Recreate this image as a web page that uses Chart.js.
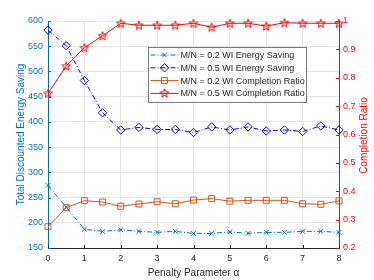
<!DOCTYPE html>
<html>
<head>
<meta charset="utf-8">
<script src="https://cdn.jsdelivr.net/npm/chart.js@4/dist/chart.umd.min.js"></script>
<style>
  body { margin: 0; background: #fff; }
</style>
</head>
<body>
<canvas id="myChart" width="374" height="280"></canvas>
<script>
// values
const alphas = [0, 0.5, 1, 1.5, 2, 2.5, 3, 3.5, 4, 4.5, 5, 5.5, 6, 6.5, 7, 7.5, 8];
const energy02 = [274, 231, 187, 183, 186, 183, 181, 183, 179, 179, 182, 179, 181, 181, 183, 183, 181];
const energy05 = [582, 551, 482, 418, 384, 389, 385, 385, 379, 390, 384, 390, 382, 384, 381, 392, 384];
const ratio02 = [0.275, 0.342, 0.367, 0.362, 0.347, 0.355, 0.363, 0.356, 0.369, 0.374, 0.365, 0.368, 0.368, 0.368, 0.356, 0.354, 0.366];
const ratio05 = [0.745, 0.841, 0.906, 0.948, 0.992, 0.985, 0.985, 0.985, 0.992, 0.978, 0.992, 0.992, 0.982, 0.994, 0.992, 0.992, 0.992];
const xTicks = [0, 1, 2, 3, 4, 5, 6, 7, 8];
const leftTicks = [150, 200, 250, 300, 350, 400, 450, 500, 550, 600];
const rightTicks = [0.2, 0.3, 0.4, 0.5, 0.6, 0.7, 0.8, 0.9, 1];
const seriesNames = ['M/N = 0.2 WI Energy Saving', 'M/N = 0.5 WI Energy Saving', 'M/N = 0.2 WI Completion Ratio', 'M/N = 0.5 WI Completion Ratio'];

const FONT = '"Liberation Sans", Arial, Helvetica, sans-serif';
const C_LBLUE = '#0072BD', C_BLUE = '#0000FF', C_ORANGE = '#D95319', C_RED = '#FF0000';

function starImg(color) {
  const c = document.createElement('canvas');
  c.width = 12; c.height = 12;
  const g = c.getContext('2d');
  g.strokeStyle = color;
  g.lineWidth = 1;
  g.beginPath();
  for (let i = 0; i < 10; i++) {
    const r = i % 2 ? 1.9 : 4.6;
    const a = -Math.PI / 2 + i * Math.PI / 5;
    g.lineTo(6 + r * Math.cos(a), 6.4 + r * Math.sin(a));
  }
  g.closePath();
  g.stroke();
  return c;
}
const star = starImg(C_RED);

function pts(ys) {
  return alphas.map((a, i) => ({ x: a, y: ys[i] }));
}

const styles = [
  { color: C_LBLUE, dash: [5, 2, 1, 2], point: 'crossRot', r: 3.3 },
  { color: C_BLUE, dash: [5, 2, 1, 2], point: 'rectRot', r: 4.2 },
  { color: C_ORANGE, dash: [], point: 'rect', r: 4.2 },
  { color: C_RED, dash: [], point: star, r: 5 }
];

function drawMarker(ctx, s, x, y) {
  if (s.point instanceof HTMLCanvasElement) {
    ctx.drawImage(s.point, x - 6, y - 6.4);
    return;
  }
  ctx.save();
  ctx.strokeStyle = s.color;
  ctx.lineWidth = 1;
  ctx.setLineDash([]);
  ctx.beginPath();
  const r = s.r;
  if (s.point === 'crossRot') {
    const d = r * Math.SQRT1_2;
    ctx.moveTo(x - d, y - d); ctx.lineTo(x + d, y + d);
    ctx.moveTo(x - d, y + d); ctx.lineTo(x + d, y - d);
  } else if (s.point === 'rectRot') {
    ctx.moveTo(x, y - r); ctx.lineTo(x + r, y); ctx.lineTo(x, y + r); ctx.lineTo(x - r, y); ctx.closePath();
  } else {
    const d = r * Math.SQRT1_2;
    ctx.rect(x - d, y - d, 2 * d, 2 * d);
  }
  ctx.stroke();
  ctx.restore();
}

const extras = {
  id: 'extras',
  afterDraw(chart) {
    const ctx = chart.ctx;
    const a = chart.chartArea;
    const sx = chart.scales.x, yl = chart.scales.y, yr = chart.scales.y2;
    ctx.save();
    ctx.lineWidth = 1;
    // inward tick marks
    ctx.strokeStyle = '#262626';
    xTicks.forEach(v => {
      const px = Math.round(sx.getPixelForValue(v)) + 0.5;
      ctx.beginPath(); ctx.moveTo(px, a.bottom); ctx.lineTo(px, a.bottom - 3); ctx.stroke();
    });
    ctx.strokeStyle = C_LBLUE;
    leftTicks.forEach(v => {
      const py = Math.round(yl.getPixelForValue(v)) + 0.5;
      ctx.beginPath(); ctx.moveTo(a.left, py); ctx.lineTo(a.left + 3, py); ctx.stroke();
    });
    ctx.strokeStyle = C_RED;
    rightTicks.forEach(v => {
      const py = Math.round(yr.getPixelForValue(v)) + 0.5;
      ctx.beginPath(); ctx.moveTo(a.right, py); ctx.lineTo(a.right - 3, py); ctx.stroke();
    });

    // right axis title, reading bottom to top
    ctx.save();
    ctx.translate(364, (a.top + a.bottom) / 2 + 1);
    ctx.rotate(-Math.PI / 2);
    ctx.fillStyle = C_RED;
    ctx.font = '10px ' + FONT;
    ctx.textAlign = 'center';
    ctx.textBaseline = 'middle';
    ctx.fillText('Completion Ratio', 0, 0);
    ctx.restore();

    // legend
    const bx = 148.5, by = 47.5, bw = 158, bh = 55;
    ctx.fillStyle = '#fff';
    ctx.fillRect(bx, by, bw, bh);
    ctx.strokeStyle = '#7a7a7a';
    ctx.strokeRect(bx, by, bw, bh);
    ctx.font = '9px ' + FONT;
    ctx.textBaseline = 'middle';
    ctx.textAlign = 'left';
    seriesNames.forEach((name, i) => {
      const s = styles[i];
      const y = by + 7.5 + i * 12.8;
      ctx.strokeStyle = s.color;
      ctx.setLineDash(s.dash);
      ctx.beginPath(); ctx.moveTo(bx + 2, y); ctx.lineTo(bx + 30, y); ctx.stroke();
      ctx.setLineDash([]);
      drawMarker(ctx, s, bx + 16, y);
      ctx.fillStyle = '#1a1a1a';
      ctx.fillText(name, bx + 32, y + 0.5);
    });
    ctx.restore();
  }
};

const ctx = document.getElementById('myChart');

new Chart(ctx, {
  type: 'line',
  data: {
    datasets: [
      { label: seriesNames[0], data: pts(energy02), yAxisID: 'y' },
      { label: seriesNames[1], data: pts(energy05), yAxisID: 'y' },
      { label: seriesNames[2], data: pts(ratio02), yAxisID: 'y2' },
      { label: seriesNames[3], data: pts(ratio05), yAxisID: 'y2' }
    ].map((d, i) => Object.assign(d, {
      borderColor: styles[i].color,
      borderWidth: 1,
      borderDash: styles[i].dash,
      pointStyle: styles[i].point,
      pointRadius: styles[i].r,
      pointBorderColor: styles[i].color,
      pointBackgroundColor: 'rgba(0,0,0,0)',
      pointBorderWidth: 1,
      tension: 0,
      clip: false
    }))
  },
  options: {
    responsive: false,
    devicePixelRatio: 1,
    animation: false,
    layout: { padding: { top: 21, left: 0, right: 0, bottom: 0 } },
    plugins: { legend: { display: false }, tooltip: { enabled: false } },
    scales: {
      x: {
        type: 'linear',
        min: 0,
        max: 8,
        afterFit: s => { s.height = 32; },
        afterBuildTicks: s => { s.ticks = xTicks.map(v => ({ value: v })); },
        ticks: { color: '#262626', font: { size: 9, family: FONT }, padding: 5, maxRotation: 0 },
        grid: { color: '#e6e6e6', drawTicks: false },
        border: { color: '#262626' },
        title: { display: true, text: 'Penalty Parameter α', color: '#262626', font: { size: 10, family: FONT }, padding: { top: 0, bottom: 1 } }
      },
      y: {
        position: 'left',
        min: 150,
        max: 600,
        afterFit: s => { s.width = 48; },
        afterBuildTicks: s => { s.ticks = leftTicks.map(v => ({ value: v })); },
        ticks: { color: C_LBLUE, font: { size: 9, family: FONT }, padding: 5 },
        grid: { color: '#e6e6e6', drawTicks: false },
        border: { color: C_LBLUE },
        title: { display: true, text: 'Total Discounted Energy Saving', color: C_LBLUE, font: { size: 10, family: FONT }, padding: { top: 15, bottom: 0 } }
      },
      y2: {
        position: 'right',
        min: 0.2,
        max: 1,
        afterFit: s => { s.width = 35; },
        afterBuildTicks: s => { s.ticks = rightTicks.map(v => ({ value: v })); },
        ticks: { color: C_RED, font: { size: 9, family: FONT }, padding: 4, callback: v => String(Number(v.toFixed(1))) },
        grid: { drawOnChartArea: false, drawTicks: false },
        border: { color: C_RED }
      }
    }
  },
  plugins: [extras]
});
</script>
</body>
</html>
